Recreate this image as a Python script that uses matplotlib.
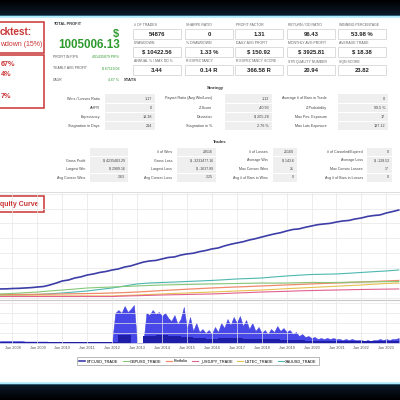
import numpy as np
import matplotlib
matplotlib.use("Agg")
import matplotlib.pyplot as plt
from matplotlib.patches import Rectangle
from matplotlib.colors import LinearSegmentedColormap

plt.rcParams['font.family'] = ['Liberation Sans', 'DejaVu Sans']

# ---- summary numbers ----
total_profit = "1005006.13"
side_stats = [("PROFIT IN PIPS", "401435879 PIPS"),
              ("YEARLY AVG PROFIT", "$ 67119.08"),
              ("CAGR", "4.67 %")]

card_labels = [["# OF TRADES", "SHARPE RATIO", "PROFIT FACTOR", "RETURN / DD RATIO", "WINNING PERCENTAGE"],
               ["DRAWDOWN", "% DRAWDOWN", "DAILY AVG PROFIT", "MONTHLY AVG PROFIT", "AVERAGE TRADE"],
               ["ANNUAL % / MAX DD %", "R EXPECTANCY", "R EXPECTANCY SCORE", "STR QUALITY NUMBER", "SQN SCORE"]]
card_values = [["54876", "0", "1.31", "96.43", "53.98 %"],
               ["$ 10422.56", "1.33 %", "$ 150.92", "$ 3925.81", "$ 18.38"],
               ["3.44", "0.14 R", "366.58 R", "20.94", "23.82"]]

# columns of the strategy table, top to bottom
strategy_labels = [["Wins / Losses Ratio", "AHPR", "Expectancy", "Stagnation in Days"],
                   ["Payout Ratio (Avg Win/Loss)", "Z-Score", "Deviation", "Stagnation in %"],
                   ["Average # of Bars in Trade", "Z-Probability", "Max Pos. Exposure", "Max Lots Exposure"]]
strategy_values = [["1.17", "0", "18.38", "214"],
                   ["1.12", "-40.93", "$ 205.28", "2.76 %"],
                   ["0", "99.5 %", "17", "137.12"]]

# columns of the trades table, top to bottom
trades_labels = [["", "Gross Profit", "Largest Win", "Avg Consec Wins"],
                 ["# of Wins", "Gross Loss", "Largest Loss", "Avg Consec Loss"],
                 ["# of Losses", "Average Win", "Max Consec Wins", "Avg # of Bars in Wins"],
                 ["# of Canceled/Expired", "Average Loss", "Max Consec Losses", "Avg # of Bars in Losses"]]
trades_values = [["", "$ 4235483.29", "$ 2989.16", "2.63"],
                 ["28516", "$ -3233477.16", "$ -1637.89", "2.25"],
                 ["25160", "$ 143.6", "21", "0"],
                 ["0", "$ -128.52", "17", "0"]]

# ---- equity curves (k$), from mid 2007 ----
btc_q = [103, 104, 108, 110, 114, 118, 125, 131, 148, 170, 194, 205, 228, 241, 262, 274,
         291, 302, 319, 331, 353, 366, 388, 409, 422, 428, 445, 462, 468, 489, 502, 510,
         528, 541, 559, 570, 593, 612, 627, 641, 661, 676, 695, 713, 730, 744, 764, 781,
         788, 806, 821, 836, 844, 851, 866, 878, 884, 901, 912, 930, 940, 947, 969, 985, 1003]
xauusd = [34, 34, 35, 40, 48, 57, 68, 80, 97, 114, 137, 160, 171, 177, 182, 188, 194,
          200, 208, 217, 222, 228, 240, 251, 260, 268, 271, 274, 282, 291, 300, 308, 319]
gbpusd = [46, 52, 60, 68, 80, 91, 102, 114, 120, 125, 131, 137, 143, 148, 151, 154, 157,
          160, 163, 165, 168, 171, 170, 171, 174, 177, 176, 177, 180, 182, 184, 186, 188]
portfolio = [40, 40, 41, 42, 43, 46, 48, 50, 53, 57, 62, 68, 76, 85, 92, 100, 107,
             114, 120, 126, 131, 137, 143, 149, 154, 160, 166, 171, 177, 182, 188, 194, 200]
ustec = [23, 23, 23, 23, 23, 23, 23, 23, 23, 23, 29, 34, 40, 46, 52, 57, 63,
         68, 74, 80, 85, 91, 98, 106, 113, 120, 127, 134, 141, 148, 157, 165, 171]
usdjpy = [17, 17, 17, 17, 17, 17, 17, 17, 17, 17, 22, 26, 30, 34, 37, 40, 43,
          46, 51, 57, 62, 68, 72, 76, 81, 85, 88, 91, 94, 97, 99, 101, 103]

# ---- lots exposure, every 1.5 months from mid 2007 ----
exposure = [2, 2, 2, 2, 2, 2, 2, 2,
            1.5, 1.5, 1.5, 1.5, 1.5, 1.5, 1.5, 1.5,
            1, 1, 1, 1, 1, 1, 1, 1,
            1, 1, 1, 1, 1, 1, 1, 1,
            1, 1, 1, 1, 1,
            30, 33, 30, 37, 31, 34, 38, 0,
            0, 0, 30, 28, 33, 29, 31, 27,
            30, 25, 22, 28, 19, 24, 36, 14,
            26, 12, 20, 11, 14, 10, 13, 9,
            16, 11, 20, 15, 24, 18, 26, 20,
            27, 17, 23, 14, 20, 12, 16, 10,
            13, 9, 14, 11, 17, 12, 15, 11,
            13, 9, 11, 7, 9, 6, 7, 5,
            6, 4, 5, 4, 5, 4, 5, 4,
            4, 3, 4, 3, 4, 3, 3, 3,
            2, 3, 2, 3, 3, 4, 3, 4,
            3, 4, 4, 5]
positions = [1, 1, 1, 1, 1, 1, 1, 1, 1, 1, 8, 0, 7, 8, 7, 6, 5,
             4, 5, 5, 4, 4, 4, 3, 3, 2, 2, 2, 2, 1.5, 1.5, 2, 2]

years = list(range(2008, 2024))

fig = plt.figure(figsize=(4, 4), dpi=100)
fig.patch.set_facecolor("white")
bg = fig.add_axes([0, 0, 1, 1])
bg.axis("off")

# dark frame bands
dark = LinearSegmentedColormap.from_list("d", ["#000000", "#0c1c2e"])
bg.imshow(np.linspace(0, 1, 50).reshape(-1, 1), extent=(0, 400, 16, 0), aspect="auto", cmap=dark)
bg.imshow(np.linspace(1, 0, 50).reshape(-1, 1), extent=(0, 400, 400, 383), aspect="auto", cmap=dark)
for yy in (16, 383):
    bg.plot([0, 400], [yy, yy], color="#5fc8f0", lw=2.2, alpha=0.35)
    bg.plot([0, 400], [yy, yy], color="#a8ecff", lw=0.8)
bg.set_xlim(0, 400)
bg.set_ylim(400, 0)

red = "#c93434"
# left red boxes (cut by the screenshot edge)
bg.add_patch(Rectangle((-2, 22), 46, 31, fill=False, ec=red, lw=1.1))
bg.add_patch(Rectangle((-2, 55), 46, 53, fill=False, ec=red, lw=1.1))
bg.text(32, 32, "cktest:", ha="right", va="center", fontsize=7.2, weight="bold", color=red)
bg.text(42, 44, "wdown (15%)", ha="right", va="center", fontsize=5, color=red)
bg.text(1, 65, "67%", ha="left", va="center", fontsize=5.2, weight="bold", color=red)
bg.text(1, 75, "4%", ha="left", va="center", fontsize=5.2, weight="bold", color=red)
bg.text(1, 97, "7%", ha="left", va="center", fontsize=5.2, weight="bold", color=red)

green = "#2e9a2e"
bg.text(53, 24, "TOTAL PROFIT", ha="left", va="center", fontsize=2.9, weight="bold", color="#333333")
bg.text(119, 34, "$", ha="right", va="center", fontsize=8, weight="bold", color=green)
bg.text(120, 44.5, total_profit, ha="right", va="center", fontsize=8.4, weight="bold", color=green)
for (lab, val), yy in zip(side_stats, [57, 68, 80]):
    bg.text(53, yy, lab, ha="left", va="center", fontsize=2.4, color="#555555")
    bg.text(119, yy, val, ha="right", va="center", fontsize=2.5, color=green)
bg.text(124, 80, "STATS", ha="left", va="center", fontsize=3, weight="bold", color="#333333")

# metric cards
card_x = [133, 185, 235, 287, 338]
card_y = [29, 47, 65]
for r in range(3):
    for c in range(5):
        x0, y0 = card_x[c], card_y[r]
        bg.text(x0 + 1, y0 - 3.5, card_labels[r][c], ha="left", va="center", fontsize=2.5, color="#666666")
        bg.add_patch(Rectangle((x0, y0), 48, 10, fc="white", ec="#d6d6d6", lw=0.6))
        bg.text(x0 + 24, y0 + 5.2, card_values[r][c], ha="center", va="center", fontsize=4.2,
                weight="bold", color="#222222")

# strategy table
bg.text(215, 88, "Strategy", ha="center", va="center", fontsize=3.1, weight="bold", color="#333333")
s_lab_x = [100, 212, 327]
s_box = [(105, 155), (225, 272), (338, 388)]
s_rows = [98.5, 108, 117, 126]
for c in range(3):
    for r, yy in enumerate(s_rows):
        bg.add_patch(Rectangle((s_box[c][0], yy - 4.3), s_box[c][1] - s_box[c][0], 8.6,
                               fc="#efefef", ec="none"))
        bg.text(s_lab_x[c], yy, strategy_labels[c][r], ha="right", va="center", fontsize=2.7, color="#444444")
        bg.text(s_box[c][1] - 3, yy, strategy_values[c][r], ha="right", va="center", fontsize=2.7, color="#444444")

# trades table
bg.text(220, 142, "Trades", ha="center", va="center", fontsize=3.1, weight="bold", color="#333333")
t_lab_x = [85, 172, 268, 363]
t_box = [(90, 128), (177, 216), (273, 297), (367, 392)]
t_rows = [152, 160.5, 169, 177.5]
for c in range(4):
    for r, yy in enumerate(t_rows):
        bg.add_patch(Rectangle((t_box[c][0], yy - 4), t_box[c][1] - t_box[c][0], 8,
                               fc="#efefef", ec="none"))
        bg.text(t_lab_x[c], yy, trades_labels[c][r], ha="right", va="center", fontsize=2.6, color="#444444")
        bg.text(t_box[c][1] - 3, yy, trades_values[c][r], ha="right", va="center", fontsize=2.6, color="#444444")

# chart card
bg.plot([0, 400], [192, 192], color="#dcdcdc", lw=0.7)
bg.add_patch(Rectangle((-2, 196), 46, 16, fill=False, ec=red, lw=1.1))
bg.text(38, 204, "quity Curve", ha="right", va="center", fontsize=5, weight="bold", color=red)

# equity axes
ax = fig.add_axes([0, 1 - 300 / 400, 1, 107 / 400])
ax.set_facecolor("none")
half = 2007.5 + 0.5 * np.arange(len(xauusd))
quart = 2007.5 + 0.25 * np.arange(len(btc_q))
l_xau, = ax.plot(half, xauusd, color="#4cb8b0", lw=0.8, label="XAUUSD_TRADE")
l_ustec, = ax.plot(half, ustec, color="#e8c050", lw=0.8, label="USTEC_TRADE")
l_jpy, = ax.plot(half, usdjpy, color="#e06090", lw=0.8, label="_USDJPY_TRADE")
l_port, = ax.plot(half, portfolio, color="#f08a6a", lw=0.9, label="Portfolio")
l_gbp, = ax.plot(half, gbpusd, color="#86c878", lw=0.8, label="GBPUSD_TRADE")
l_btc, = ax.plot(quart, btc_q, color="#3d3da8", lw=1.2, label="BTCUSD_TRADE")
ax.set_xlim(2007.5, 2023.55)
ax.set_ylim(-23, 1197)
ax.set_xticks(years)
ax.set_yticks(np.arange(0, 1200, 170))
ax.tick_params(length=0, labelbottom=False, labelleft=False)
ax.grid(color="#e6e6e6", lw=0.5)
for s in ("top", "left", "right"):
    ax.spines[s].set_visible(False)
ax.spines["bottom"].set_color("#c8c8c8")
ax.spines["bottom"].set_linewidth(0.8)

# exposure axes
ax2 = fig.add_axes([0, 1 - 344 / 400, 1, 44 / 400])
ax2.set_facecolor("none")
eighth = 2007.5 + 0.125 * np.arange(len(exposure))
ax2.fill_between(eighth, 0, exposure, color="#4848e8", lw=0.3, edgecolor="#3a3ad8")
ax2.fill_between(half, 0, positions, color="#1e1ea8", lw=0, step="mid")
ax2.set_xlim(2007.5, 2023.55)
ax2.set_ylim(-1, 43)
ax2.set_xticks(years)
ax2.set_xticklabels(["Jan %d" % y for y in years])
ax2.set_yticks([0, 10, 20, 30, 40])
ax2.tick_params(length=0, labelleft=False, labelsize=2.8, labelcolor="#555555", pad=1.5)
ax2.grid(color="#e6e6e6", lw=0.5)
for s in ax2.spines.values():
    s.set_visible(False)

handles = [l_btc, l_gbp, l_port, l_jpy, l_ustec, l_xau]
leg = fig.legend(handles=handles, labels=[h.get_label() for h in handles], loc="center",
                 bbox_to_anchor=(0.495, 1 - 361 / 400), ncol=6, fontsize=2.8, frameon=True,
                 handlelength=1.5, handletextpad=0.4, columnspacing=1.2, borderpad=0.5,
                 fancybox=False)
leg.get_frame().set_edgecolor("#999999")
leg.get_frame().set_linewidth(0.6)

fig.savefig("out.png", dpi=100, facecolor="white")
